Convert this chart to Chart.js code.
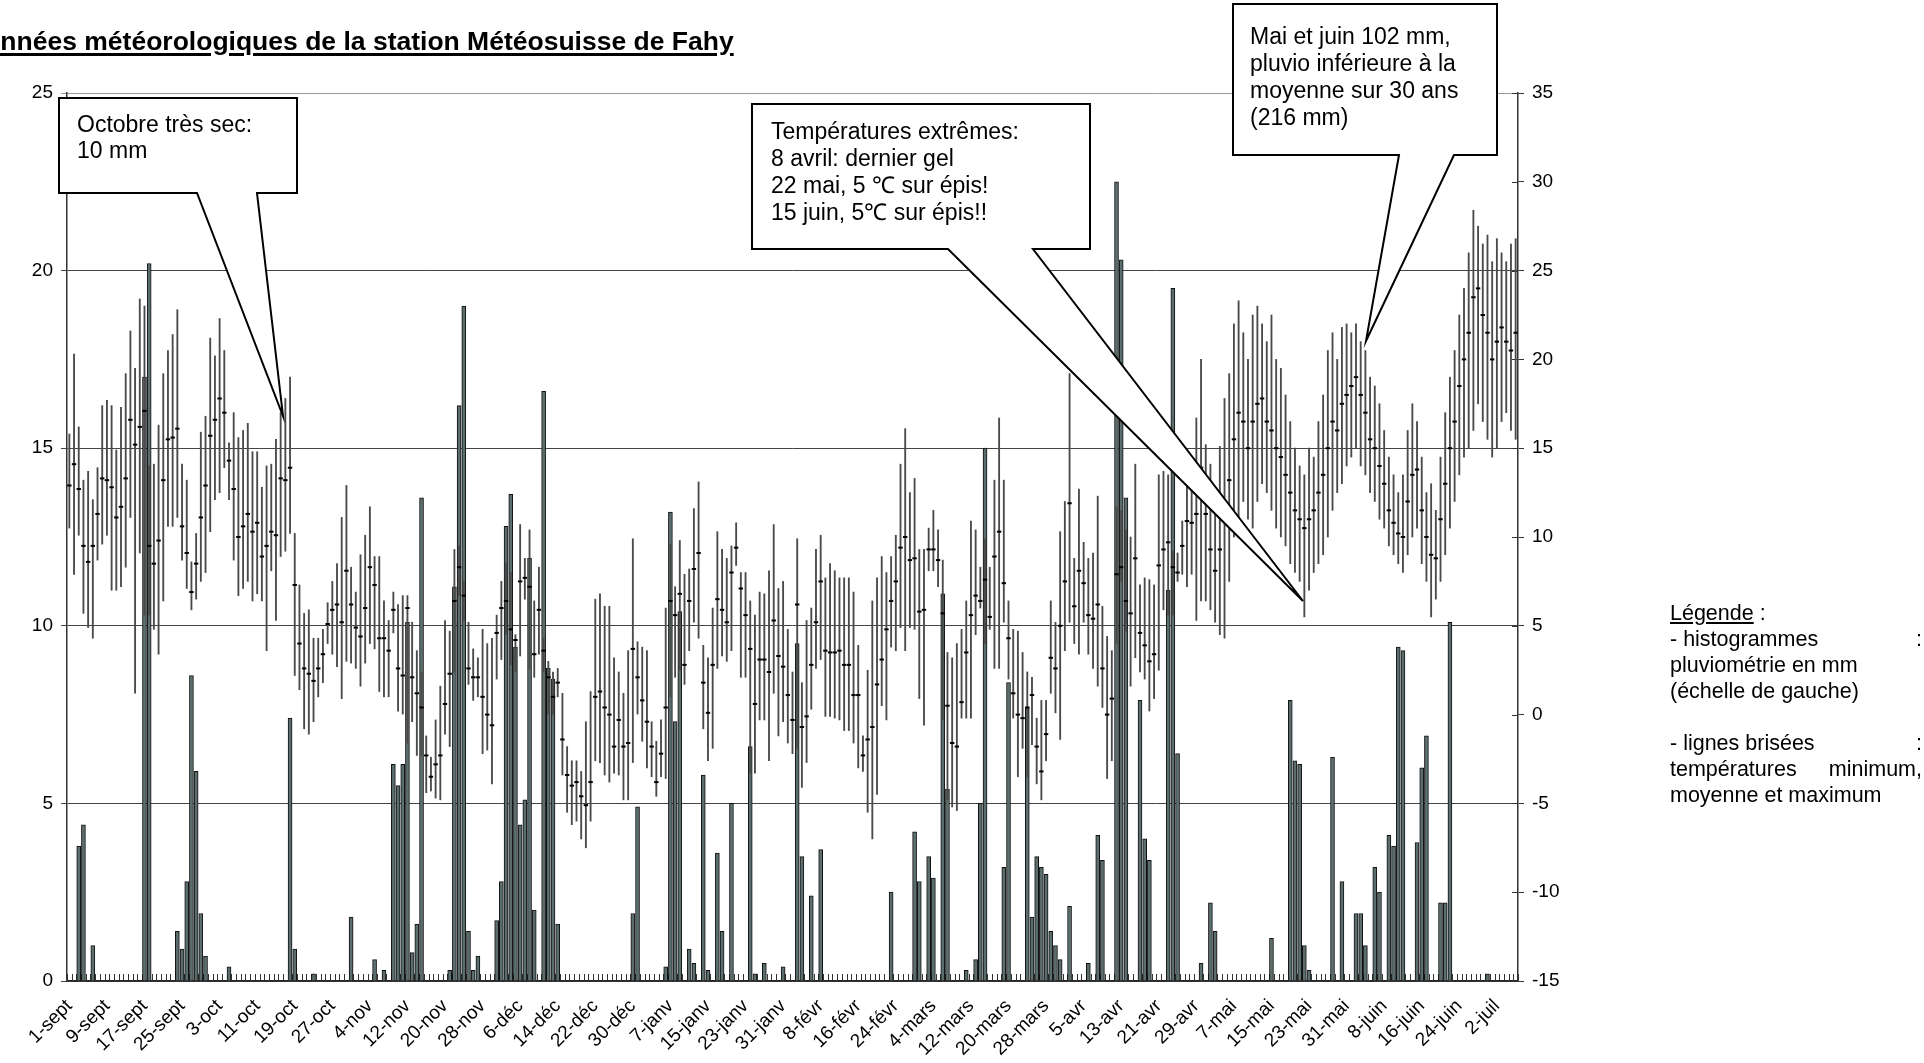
<!DOCTYPE html>
<html><head><meta charset="utf-8">
<script src="https://cdn.jsdelivr.net/npm/chart.js@4.4.1/dist/chart.umd.min.js"></script>
<style>
html,body{margin:0;padding:0;background:#fff;overflow:hidden;}
#wrap{position:relative;width:1924px;height:1063px;overflow:hidden;}
#c{position:absolute;left:0;top:0;}
#title{position:absolute;left:-35px;top:26px;font:bold 26.5px "Liberation Sans",Arial,sans-serif;line-height:30px;white-space:nowrap;text-decoration:underline;text-decoration-thickness:2.5px;text-underline-offset:3px;color:#000;}
#legend{position:absolute;left:1670px;top:600px;width:252px;font:21.5px "Liberation Sans",Arial,sans-serif;line-height:26px;color:#000;}
#legend .j{display:flex;justify-content:space-between;}
</style></head>
<body><div id="wrap">
<canvas id="c" width="1924" height="1063" style="width:1924px;height:1063px"></canvas>
<div id="title">Données météorologiques de la station Météosuisse de Fahy</div>
<div id="legend">
<div><u>Légende</u> :</div>
<div class="j"><span>- histogrammes</span><span>:</span></div>
<div>pluviométrie en mm</div>
<div>(échelle de gauche)</div>
<div>&nbsp;</div>
<div class="j"><span>- lignes brisées</span><span>:</span></div>
<div class="j"><span>températures</span><span>minimum,</span></div>
<div>moyenne et maximum</div>
</div>
</div>
<script>
// ---- DATA (one value per day, starting 1 September) ----
const tickLabels = ['1-sept','9-sept','17-sept','25-sept','3-oct','11-oct','19-oct','27-oct','4-nov','12-nov','20-nov','28-nov','6-déc','14-déc','22-déc','30-déc','7-janv','15-janv','23-janv','31-janv','8-févr','16-févr','24-févr','4-mars','12-mars','20-mars','28-mars','5-avr','13-avr','21-avr','29-avr','7-mai','15-mai','23-mai','31-mai','8-juin','16-juin','24-juin','2-juil'];
const tickEvery = 8;
const months = [['sept',30],['oct',31],['nov',30],['déc',31],['janv',31],['févr',28],['mars',31],['avr',30],['mai',31],['juin',30],['juil',31]];

// precipitation, mm (left axis)
const precip = [
0,0,3.8,4.4,0,1.0,0,0,0,0,
0,0,0,0,0,0,17.0,20.2,0,0,
0,0,0,1.4,0.9,2.8,8.6,5.9,1.9,0.7,
0,0,0,0,0.4,0,0,0,0,0,
0,0,0,0,0,0,0,7.4,0.9,0,
0,0,0.2,0,0,0,0,0,0,0,
1.8,0,0,0,0,0.6,0,0.3,0,6.1,
5.5,6.1,10.1,0.8,1.6,13.6,0,0,0,0,
0,0.3,11.1,16.2,19.0,1.4,0.3,0.7,0,0,
0,1.7,2.8,12.8,13.7,9.4,4.4,5.1,11.9,2.0,
0,16.6,8.8,8.5,1.6,0,0,0,0,0,
0,0,0,0,0,0,0,0,0,0,
1.9,4.9,0,0,0,0,0,0.4,13.2,7.3,
10.4,0,0.9,0.5,0,5.8,0.3,0,3.6,1.4,
0,5.0,0,0,0,6.6,0.2,0,0.5,0,
0,0,0.4,0,0,9.5,3.5,0,2.4,0,
3.7,0,0,0,0,0,0,0,0,0,
0,0,0,0,0,2.5,0,0,0,0,
4.2,2.8,0,3.5,2.9,0,10.9,5.4,0,0,
0,0.3,0,0.6,5.0,15.0,0,0,0,3.2,
8.4,0,0,0,7.7,1.8,3.5,3.2,3.0,1.4,
1.0,0.6,0,2.1,0,0,0,0.5,0,4.1,
3.4,0,0,22.5,20.3,13.6,0,0,7.9,4.0,
3.4,0,0,0,11.0,19.5,6.4,0,0,0,
0,0.5,0,2.2,1.4,0,0,0,0,0,
0,0,0,0,0,0,1.2,0,0,0,
7.9,6.2,6.1,1.0,0.3,0,0,0,0,6.3,
0,2.8,0,0,1.9,1.9,1.0,0,3.2,2.5,
0,4.1,3.8,9.4,9.3,0,0,3.9,6.0,6.9,
0,0,2.2,2.2,10.1,0,0,0,0,0,
0,0,0.2,0,0,0,0,0,0];

// daily maximum temperature, °C (right axis)
const tMax = [
15.8,20.3,16.2,13.2,13.7,12.1,13.9,17.4,17.7,17.4,
14.9,17.3,19.2,21.6,19.5,23.4,23.0,14.0,14.1,16.3,
19.2,20.5,21.4,22.8,14.1,13.2,8.6,10.2,15.9,16.8,
21.2,20.2,22.3,20.5,15.3,17.0,15.6,16.0,16.4,14.8,
14.8,12.8,14.0,14.1,15.5,17.0,17.8,19.0,10.2,7.3,
5.7,5.9,4.3,4.3,4.8,6.3,7.5,8.5,11.1,12.9,
8.3,6.9,9.0,10.1,11.7,8.9,8.9,6.4,5.3,6.9,
6.2,6.7,6.7,5.2,3.6,2.4,-1.2,-2.4,-0.3,1.6,
5.3,4.7,9.3,9.5,7.5,5.2,3.7,3.2,4.8,4.0,
4.3,5.6,7.5,8.5,8.0,4.5,10.7,8.8,10.4,6.4,
8.3,4.3,3.0,2.4,2.6,1.2,-1.8,-2.6,-2.6,-3.2,
-0.4,1.3,6.5,6.8,6.1,6.1,3.2,2.4,1.2,3.6,
9.9,4.1,3.8,3.6,-0.4,-1.5,-0.3,6.0,9.6,7.2,
9.8,7.9,8.2,11.6,13.1,3.9,3.2,6.0,10.3,9.3,
8.8,9.5,10.8,8.0,8.0,6.4,5.6,6.9,6.8,8.1,
10.7,7.1,7.5,4.8,2.4,9.9,1.8,5.3,6.0,9.3,
10.1,7.7,8.5,8.1,7.7,7.7,7.7,6.9,3.9,-1.2,
2.5,6.4,7.7,8.9,8.0,8.9,10.1,14.1,16.1,12.5,
13.3,9.3,9.3,10.5,11.5,10.4,8.7,3.5,3.2,4.0,
4.8,6.4,10.9,10.4,8.3,9.9,8.3,13.2,16.7,13.2,
6.4,4.8,4.7,3.5,2.4,2.1,-0.2,0.8,0.8,6.4,
5.2,10.3,12.0,19.2,8.8,12.7,9.7,8.8,9.1,12.3,
6.1,4.4,3.6,11.7,11.5,10.4,10.0,14.1,7.3,7.7,
7.6,7.3,13.5,13.7,13.5,9.2,9.1,10.9,14.9,14.4,
16.7,20.0,15.2,14.1,12.0,15.1,17.8,19.2,22.0,23.3,
21.5,20.0,22.5,23.0,22.0,21.0,22.5,20.0,19.5,18.0,
16.5,15.0,14.0,13.5,15.0,14.5,16.5,18.0,20.5,21.5,
20.0,21.8,22.0,21.5,22.0,21.0,20.5,19.0,18.5,17.5,
16.0,14.5,13.5,12.5,13.5,16.0,17.5,16.5,14.5,12.5,
13.0,11.5,14.5,17.0,19.0,20.5,22.5,24.0,26.0,28.4,
27.5,26.5,27.0,25.5,26.8,26.0,25.5,26.5,26.8];

// daily minimum temperature, °C
const tMin = [
10.5,7.9,10.1,5.7,4.9,4.3,8.7,9.6,10.1,7.0,
7.0,7.2,8.3,11.1,1.2,9.1,5.6,5.6,4.8,3.4,
6.4,10.6,10.6,11.1,8.7,7.1,5.9,6.5,7.5,8.0,
10.3,12.1,12.5,13.9,12.1,8.7,6.7,7.1,7.5,6.4,
6.8,6.4,3.6,8.1,5.3,8.9,9.2,10.2,2.2,1.4,
-0.8,-1.1,-0.4,1.0,1.8,4.0,3.4,2.7,0.9,3.0,
2.9,2.6,1.6,2.9,4.0,3.7,1.3,1.0,1.0,4.6,
0.2,0.0,-1.6,-0.4,-2.3,-2.3,-4.4,-4.3,-4.7,-4.8,
-1.1,-1.8,2.4,6.7,5.3,1.7,0.8,1.0,-2.2,-2.0,
-3.9,2.0,3.1,4.5,2.8,2.4,3.3,6.5,2.6,2.1,
3.4,2.4,0.0,0.0,1.0,-3.4,-5.5,-6.2,-6.0,-7.0,
-7.5,-6.0,-2.6,-2.7,-3.4,-3.8,-3.3,-3.4,-4.8,-4.8,
-2.7,0.0,-1.5,-3.0,-3.5,-4.6,-3.5,-3.6,1.0,2.1,
2.5,1.7,3.6,5.2,4.3,-0.8,-2.6,-1.9,2.6,3.3,
3.0,3.6,8.4,2.1,2.1,-3.3,-3.3,-0.3,-0.3,-2.6,
1.2,-1.2,-0.4,-1.6,-2.2,-1.9,-4.1,-2.7,0.3,2.6,
3.1,-0.1,-0.1,-0.2,-0.3,-0.9,-0.9,-1.6,-3.0,-3.2,
-5.5,-7.0,-4.5,0.5,-0.3,3.8,3.6,4.9,3.6,4.9,
4.8,0.9,-0.6,8.1,8.1,7.2,-0.3,-4.8,-5.2,-5.4,
-0.2,-0.2,-0.2,4.5,6.0,4.0,4.8,2.6,2.6,5.2,
2.0,-0.2,-3.5,-1.9,-3.5,-1.7,-3.9,-4.8,-2.6,1.2,
0.1,-1.4,3.6,5.2,4.0,3.4,5.2,3.4,2.6,1.6,
0.4,-3.6,-2.6,4.0,7.5,4.7,1.6,3.2,2.4,2.0,
0.2,0.9,2.5,5.9,5.6,5.6,7.5,7.9,7.2,7.9,
5.3,6.4,6.4,5.9,5.2,4.5,4.3,7.5,10.0,11.0,
12.0,11.0,10.5,12.0,13.0,12.5,11.5,10.5,10.0,9.5,
8.5,8.0,7.5,5.5,7.0,8.0,8.5,9.0,10.0,11.5,
12.5,13.0,14.0,14.5,15.0,14.0,13.5,12.5,12.0,11.0,
10.5,9.5,9.0,8.5,8.0,9.0,10.0,10.5,8.5,7.5,
5.5,6.5,7.5,9.0,10.5,12.0,13.5,14.5,15.0,16.0,
17.5,16.5,15.5,14.5,15.0,16.5,17.0,16.0,15.5];

// daily mean temperature, °C
const tMean = [
12.9,14.1,12.7,9.5,8.6,9.5,11.3,13.3,13.2,12.8,
11.1,11.7,13.3,16.6,15.2,16.2,17.1,9.5,8.5,9.8,
13.2,15.5,15.6,16.1,10.6,9.1,6.9,8.5,11.1,12.9,
15.7,16.6,17.8,17.0,14.3,12.7,10.0,10.6,11.3,10.3,
10.8,8.9,9.5,10.3,10.1,13.3,13.2,13.9,7.3,4.0,
2.6,2.3,1.9,2.6,3.4,5.1,5.9,6.2,5.2,8.1,
6.2,4.9,4.4,6.0,8.3,7.3,4.3,4.3,3.6,5.9,
2.6,2.2,6.0,2.1,1.2,0.4,-2.3,-3.5,-2.8,-2.3,
0.6,2.3,6.4,8.3,6.7,2.6,2.1,2.1,1.0,0.0,
-0.6,4.6,6.0,6.4,4.8,4.2,7.5,7.7,7.2,3.4,
5.9,3.6,2.1,1.0,1.8,-1.4,-3.4,-4.0,-3.8,-4.6,
-5.1,-3.8,1.0,1.3,0.4,0.0,-1.8,-0.3,-1.8,-1.6,
3.7,2.1,0.8,-0.4,-1.8,-3.8,-2.2,0.4,6.4,5.6,
6.8,2.8,6.4,8.2,9.1,1.8,0.1,2.8,6.5,5.9,
5.2,8.0,9.4,7.1,5.6,3.7,0.6,3.1,3.1,2.4,
5.3,3.3,2.7,1.1,-0.3,6.2,-0.7,-0.1,2.8,5.2,
7.5,3.6,3.5,3.5,3.6,2.8,2.8,1.1,1.1,-2.3,
-1.4,-0.7,1.7,3.1,4.8,6.4,7.5,9.4,10.0,8.7,
8.8,5.8,5.9,9.3,9.3,8.7,5.7,0.5,-1.6,-1.8,
0.7,3.5,5.6,6.7,6.4,7.6,5.5,8.9,10.3,7.4,
4.3,1.2,0.0,-0.2,0.4,1.1,-1.8,-3.2,-1.1,3.2,
2.6,5.0,7.5,11.9,6.1,8.1,7.4,5.6,5.4,6.2,
2.6,0.0,0.9,7.9,8.3,6.4,5.7,8.8,4.6,3.9,
3.0,3.4,8.4,9.3,9.7,8.3,8.0,9.5,10.9,10.8,
11.3,13.9,11.3,9.3,8.1,9.3,11.9,13.2,15.5,17.0,
16.5,15.0,16.5,17.5,17.8,16.5,16.0,15.0,14.5,13.5,
12.5,11.5,11.0,10.5,11.0,11.5,12.5,13.5,15.0,16.5,
16.0,17.5,18.0,18.5,19.0,18.0,17.0,15.5,15.0,14.0,
13.0,11.5,10.8,10.2,10.0,12.0,13.5,13.8,11.5,10.0,
9.0,8.8,11.0,13.0,15.0,16.5,18.5,20.0,21.5,23.5,
24.0,22.5,21.5,20.0,21.0,21.8,21.0,20.5,21.5];

// ---- annotation boxes (pixel geometry) ----
const callouts = [
  {shape:[[59,98],[297,98],[297,193],[257,193],[283,416],[197,193],[59,193]], tx:77, ty:132, lh:26,
   lines:['Octobre très sec:','10 mm']},
  {shape:[[752,104],[1090,104],[1090,249],[1033,249],[1303,601],[948,249],[752,249]], tx:771, ty:139, lh:27,
   lines:['Températures extrêmes:','8 avril: dernier gel','22 mai, 5 ℃ sur épis!','15 juin, 5℃ sur épis!!']},
  {shape:[[1233,4],[1497,4],[1497,155],[1454,155],[1366,341],[1399,155],[1233,155]], tx:1250, ty:44, lh:27,
   lines:['Mai et juin 102 mm,','pluvio inférieure à la','moyenne sur 30 ans','(216 mm)']}
];

// ---- build ----
const N = tMax.length;
const categories = [];
for (const [m, len] of months) {
  for (let d = 1; d <= len && categories.length < N; d++) categories.push(d + '-' + m);
}
const FONT = '"Liberation Sans", Arial, Helvetica, sans-serif';
Chart.defaults.font.family = FONT;

const innerTicks = {
  id: 'innerTicks',
  beforeDatasetsDraw(chart) {
    const {ctx, chartArea: a, scales} = chart;
    ctx.save();
    ctx.strokeStyle = '#333';
    ctx.lineWidth = 1;
    const w = (a.right - a.left) / N;
    ctx.beginPath();
    for (let i = 0; i <= N; i++) {
      const x = Math.round(a.left + i * w) + 0.5;
      ctx.moveTo(x, a.bottom); ctx.lineTo(x, a.bottom - 7);
    }
    scales.y1.ticks.forEach(t => {
      const y = Math.round(scales.y1.getPixelForValue(t.value)) + 0.5;
      ctx.moveTo(a.right, y); ctx.lineTo(a.right - 6, y);
    });
    ctx.stroke();
    ctx.restore();
  }
};

const calloutPlugin = {
  id: 'callouts',
  afterDraw(chart) {
    const ctx = chart.ctx;
    ctx.save();
    for (const c of callouts) {
      ctx.beginPath();
      c.shape.forEach((p, i) => i ? ctx.lineTo(p[0], p[1]) : ctx.moveTo(p[0], p[1]));
      ctx.closePath();
      ctx.fillStyle = '#fff';
      ctx.fill();
      ctx.lineWidth = 2;
      ctx.lineJoin = 'miter';
      ctx.strokeStyle = '#000';
      ctx.stroke();
      ctx.fillStyle = '#000';
      ctx.font = '23px ' + FONT;
      ctx.textBaseline = 'alphabetic';
      c.lines.forEach((t, i) => ctx.fillText(t, c.tx, c.ty + i * c.lh));
    }
    ctx.restore();
  }
};

new Chart(document.getElementById('c'), {
  data: {
    labels: categories,
    datasets: [
      {type: 'line', label: 'Température moyenne', data: tMean, yAxisID: 'y1', showLine: false,
       pointStyle: 'line', pointRadius: 2.2, pointBorderWidth: 2, borderColor: '#000', backgroundColor: '#000', order: 0},
      {type: 'bar', label: 'Températures min-max', data: tMin.map((v, i) => [v, tMax[i]]), yAxisID: 'y1',
       backgroundColor: '#4a4a4a', barThickness: 1.2, grouped: false, order: 1},
      {type: 'bar', label: 'Pluviométrie', data: precip, yAxisID: 'y',
       backgroundColor: '#5c6d6d', borderColor: '#111', borderWidth: 1, barThickness: 4, grouped: false, order: 2}
    ]
  },
  options: {
    responsive: false, animation: false, devicePixelRatio: 1, events: [],
    layout: {padding: {top: 93, left: 0, right: 0, bottom: 0}},
    plugins: {legend: {display: false}, tooltip: {enabled: false}},
    scales: {
      x: {
        offset: true,
        grid: {display: false},
        border: {display: true, color: '#222', width: 1.5},
        ticks: {autoSkip: false, maxRotation: 45, minRotation: 45, padding: 6, color: '#000', font: {size: 19},
                callback: (v, i) => (i % tickEvery === 0 ? tickLabels[i / tickEvery] : '')},
        afterFit: s => { s.height = 82; }
      },
      y: {
        position: 'left', min: 0, max: 25,
        ticks: {stepSize: 5, color: '#000', font: {size: 19}, padding: 8},
        grid: {color: c => (c.tick && c.tick.value === 25 ? '#999' : '#444'), lineWidth: 1, tickLength: 6},
        border: {display: true, color: '#333', width: 1.5},
        afterFit: s => { s.width = 67; }
      },
      y1: {
        position: 'right', min: -15, max: 35,
        ticks: {stepSize: 5, color: '#000', font: {size: 19}, padding: 8},
        grid: {drawOnChartArea: false, tickLength: 6, color: '#333'},
        border: {display: true, color: '#333', width: 1.5},
        afterFit: s => { s.width = 1924 - 1518; }
      }
    }
  },
  plugins: [innerTicks, calloutPlugin]
});
</script>
</body></html>
